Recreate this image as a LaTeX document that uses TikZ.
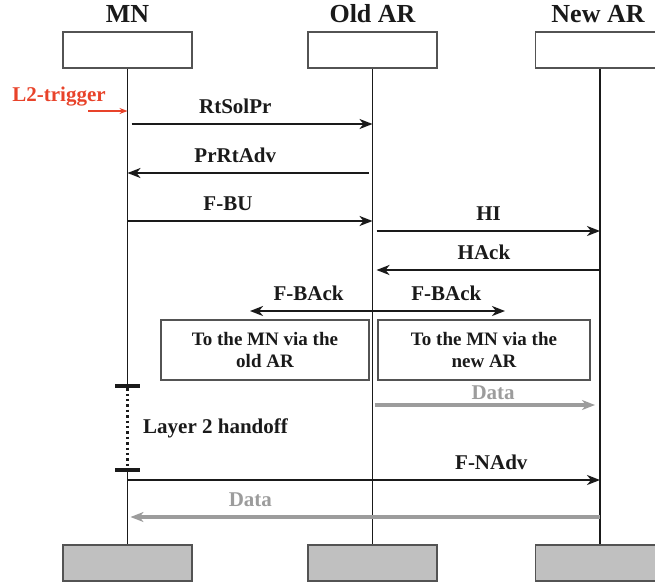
\documentclass[tikz,border=0pt]{standalone}
\usepackage{fontspec}
\setmainfont{Liberation Serif}[BoldFont={Liberation Serif Bold}]
\usetikzlibrary{arrows.meta,positioning}
\definecolor{ink}{HTML}{1A1A1A}
\definecolor{trig}{HTML}{E8432A}
\definecolor{datagray}{HTML}{9C9C9C}
\definecolor{boxgray}{HTML}{C0C0C0}

\begin{document}
\begin{tikzpicture}[x=1pt,y=-1pt,font=\bfseries\fontsize{21}{24}\selectfont,text=ink,
  >={Stealth[length=13pt,width=10pt,inset=4pt]},
  ent/.style={draw=ink!75,line width=1.8pt,minimum width=129pt,minimum height=36pt,inner sep=0pt},
  ttl/.style={font=\bfseries\fontsize{26}{28}\selectfont,inner sep=0pt,above=8pt of #1},
  note/.style={draw=ink!75,line width=1.8pt,minimum height=60pt,align=center,inner sep=0pt,
    font=\bfseries\fontsize{19}{22}\selectfont},
  life/.style={draw=ink,line width=1.7pt},
  msg/.style={draw=ink,line width=2.6pt,->},
  dat/.style={draw=datagray,line width=3.6pt,->},
  lbl/.style={anchor=base,yshift=11pt,inner sep=0pt},
  tick/.style={fill=ink,minimum width=25pt,minimum height=3.8pt,inner sep=0pt}]
\useasboundingbox (0,0) rectangle (655,584);
% entities
\node[ent] (mn) at (127.5,50) {}; \node[ent] (old) at (372.5,50) {}; \node[ent] (new) at (600,50) {};
\node[ttl=mn] (mnT) {MN}; \node[ttl=old] (oldT) {Old AR}; \node[ttl=new,xshift=-2pt] (newT) {New AR};
\node[ent,fill=boxgray] (mnB) at (127.5,563) {};
\node[ent,fill=boxgray] (oldB) at (372.5,563) {};
\node[ent,fill=boxgray] (newB) at (600,563) {};
% rows
\foreach \n/\y in {trgS/111,rts/124,prr/173,fbu/221,hi/231,hack/270,dt1/405,h1/386,h2/470,fna/480,dt2/517}
  {\coordinate (\n) at (0,\y);}
\coordinate (fbL) at (250,311); \coordinate (fbR) at (505,311);
% lifelines
\node[tick] (tk1) at (mn |- h1) {}; \node[tick] (tk2) at (mn |- h2) {};
\draw[life] (mn) -- (tk1);
\draw[ink,line width=2.6pt,dash pattern=on 2.4pt off 3pt] (tk1) -- (tk2);
\draw[life] (tk2) -- (mnB);
\draw[life] (old) -- (oldB); \draw[life] (new) -- (newB);
% trigger
\node[text=trig,inner sep=0pt] (trg) at (59,97) {L2-trigger};
\coordinate (trgA) at (88,111);
\draw[trig,line width=1.8pt,-{Stealth[length=8pt,width=6pt]}] (trgA) -- (mn |- trgS);
% messages
\draw[msg,shorten <=4pt] (mn |- rts) -- (old |- rts) node[lbl,pos=.44] {RtSolPr};
\draw[msg,shorten <=4pt] (old |- prr) -- (mn |- prr) node[lbl,pos=.56] {PrRtAdv};
\draw[msg] (mn |- fbu) -- (old |- fbu) node[lbl,pos=.41] {F-BU};
\draw[msg,shorten <=4pt] (old |- hi) -- (new |- hi) node[lbl,pos=.51] {HI};
\draw[msg,shorten >=4pt] (new |- hack) -- (old |- hack) node[lbl,pos=.51] {HAck};
\draw[msg,<->] (fbL) -- (fbR) node[lbl,pos=.23] {F-BAck} node[lbl,pos=.77] {F-BAck};
\node[note,minimum width=208pt] (viaOld) at (265,350) {To the MN via the\\old AR};
\node[note,minimum width=212pt] (viaNew) at (484,350) {To the MN via the\\new AR};
\draw[dat,shorten <=2pt,shorten >=5pt] (old |- dt1) -- (new |- dt1)
  node[lbl,yshift=-5pt,pos=.53,text=datagray] {Data};
\node[anchor=west,inner sep=0pt] (l2h) at (143,428) {Layer 2 handoff};
\draw[msg] (mn |- fna) -- (new |- fna) node[lbl,pos=.77] {F-NAdv};
\draw[dat,shorten >=3pt] (new |- dt2) -- (mn |- dt2) node[lbl,pos=.74,text=datagray] {Data};
\end{tikzpicture}
\end{document}
